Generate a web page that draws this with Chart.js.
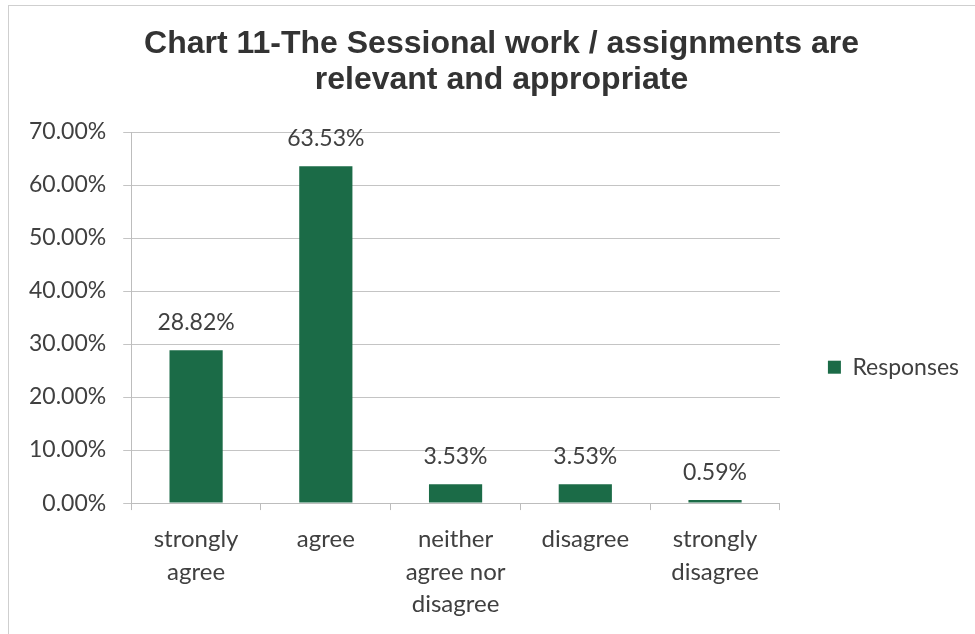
<!DOCTYPE html>
<html>
<head>
<meta charset="utf-8">
<title>Chart 11</title>
<script src="https://cdn.jsdelivr.net/npm/chart.js@4.4.1/dist/chart.umd.min.js"></script>
<style>
    html, body { margin: 0; padding: 0; background: #ffffff; }
    #wrap { position: relative; width: 975px; height: 634px; overflow: hidden; }
    #frame { position: absolute; left: 8px; top: 5px; right: -2px; bottom: -2px; border: 1px solid #cfcfcf; }
    canvas { display: block; }
</style>
</head>
<body>
<div id="wrap">
    <div id="frame"></div>
    <canvas id="sessionalChart" width="975" height="634"></canvas>
</div>
<script>
// Chart 11 - Sessional work / assignments survey

const categories = [
    ['strongly', 'agree'],
    'agree',
    ['neither', 'agree nor', 'disagree'],
    'disagree',
    ['strongly', 'disagree']
];
const responses = [28.82, 63.53, 3.53, 3.53, 0.59];
const yTicks = [0, 10, 20, 30, 40, 50, 60, 70];

const barGreen = '#1b6b47';
const textGrey = '#404040';
const bodyFont = 'Lato, "Open Sans", sans-serif';

// value labels above each bar
const barLabels = {
    id: 'barLabels',
    afterDatasetsDraw(chart) {
        const ctx = chart.ctx;
        const meta = chart.getDatasetMeta(0);
        ctx.save();
        ctx.font = '23px ' + bodyFont;
        ctx.fillStyle = textGrey;
        ctx.textAlign = 'center';
        ctx.textBaseline = 'bottom';
        meta.data.forEach(function(bar, i) {
            ctx.fillText(responses[i].toFixed(2) + '%', bar.x, bar.y - 16);
        });
        ctx.restore();
    }
};

// Excel centres the title a little right of the canvas middle
const titleShift = {
    id: 'titleShift',
    afterLayout(chart) {
        if (chart.titleBlock) chart.titleBlock.left += 22;
    }
};

document.addEventListener('DOMContentLoaded', function() {
    const ctx = document.getElementById('sessionalChart');
    new Chart(ctx.getContext('2d'), {
        type: 'bar',
        data: {
            labels: categories,
            datasets: [{
                label: 'Responses',
                data: responses,
                backgroundColor: barGreen,
                borderWidth: 0,
                categoryPercentage: 1.0,
                barPercentage: 0.41
            }]
        },
        options: {
            responsive: false,
            animation: false,
            layout: {
                padding: { left: 12, right: 6, top: 0, bottom: 0 }
            },
            scales: {
                x: {
                    grid: {
                        drawOnChartArea: false,
                        drawTicks: true,
                        tickLength: 7,
                        color: '#bdbdbd',
                        offset: true
                    },
                    border: { color: '#bdbdbd' },
                    ticks: {
                        color: textGrey,
                        padding: 13,
                        maxRotation: 0,
                        autoSkip: false,
                        font: { family: bodyFont, size: 24, lineHeight: 1.36 }
                    }
                },
                y: {
                    min: 0,
                    max: 70,
                    afterBuildTicks: function(axis) {
                        axis.ticks = yTicks.map(function(v) { return { value: v }; });
                    },
                    grid: {
                        color: '#c4c4c4',
                        tickLength: 8
                    },
                    border: { color: '#bdbdbd' },
                    ticks: {
                        color: textGrey,
                        padding: 17,
                        font: { family: bodyFont, size: 23 },
                        callback: function(v) { return v.toFixed(2) + '%'; }
                    }
                }
            },
            plugins: {
                title: {
                    display: true,
                    text: ['Chart 11-The Sessional work / assignments are', 'relevant and appropriate'],
                    color: '#333333',
                    font: { family: '"Liberation Sans", Arial, sans-serif', size: 32, weight: 'bold', lineHeight: 1.125 },
                    padding: { top: 26, bottom: 34 }
                },
                legend: {
                    position: 'right',
                    // empty legend title only pushes the entry down to where Excel puts it
                    title: { display: true, text: ' ', padding: { top: 86, bottom: 0 }, font: { size: 12 } },
                    labels: {
                        color: textGrey,
                        boxWidth: 13,
                        boxHeight: 13,
                        padding: 48,
                        font: { family: bodyFont, size: 23 }
                    }
                },
                tooltip: { enabled: false }
            }
        },
        plugins: [barLabels, titleShift]
    });
});
</script>
</body>
</html>
